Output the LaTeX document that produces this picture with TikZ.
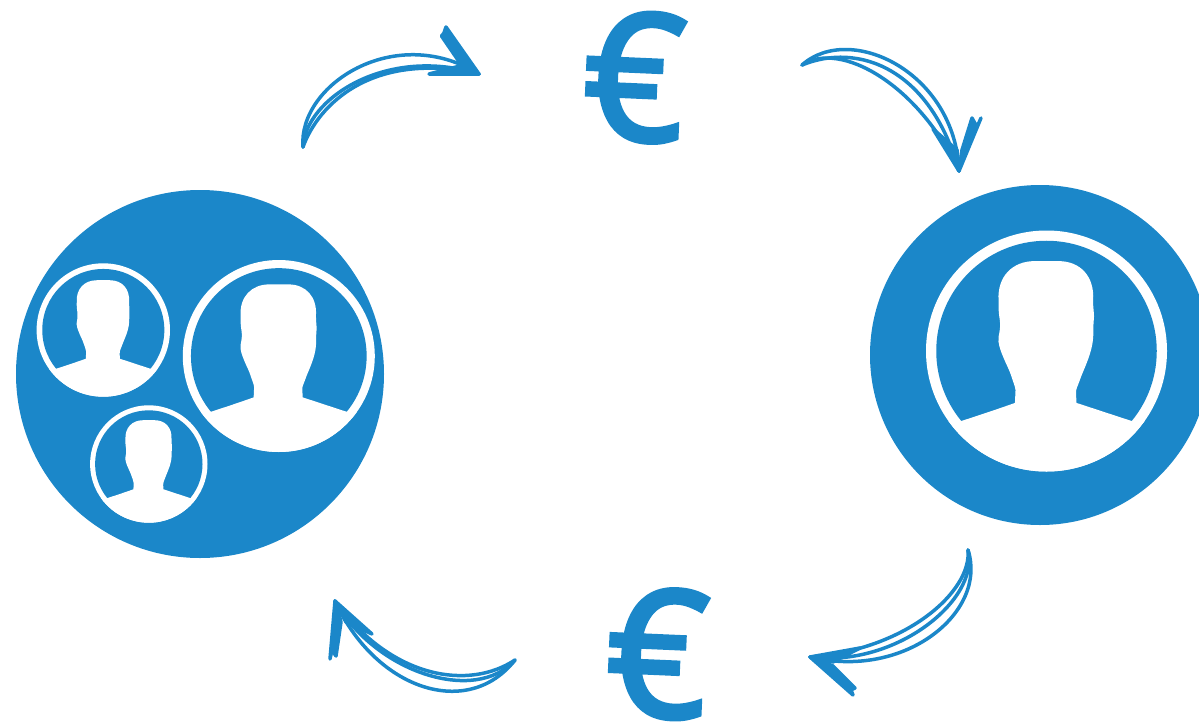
\documentclass[tikz,border=0pt]{standalone}
\usepackage{fontspec}
\setmainfont{Noto Sans}
\newfontfamily\eurofont[FakeBold=2.2]{Noto Sans}
\definecolor{brand}{RGB}{27,135,201}
\tikzset{
  disc/.style={circle,fill=brand,inner sep=0pt,outer sep=0pt},
  ring/.style={circle,fill=white,inner sep=0pt,outer sep=0pt},
  euro/.style={text=brand,inner sep=0pt,rotate=-2.5,font=\eurofont\fontsize{178}{178}\selectfont},
  strand/.style={draw=brand,line width=3.5pt,line cap=round},
  barb/.style={draw=brand,fill=brand,line width=3.5pt,line join=round}
}
% name, x, y, outer radius
\newcommand{\person}[4]{%
  \node[ring,minimum size=#4*2pt] (#1) at (#2,#3) {};
  \begin{scope}[shift={(#2,#3)},x=#4pt,y=-#4pt]
    \clip (0,0) circle (1);
    \fill[brand] (0,0) circle (0.915);
    \fill[white] (-0.10,-0.746) -- (0.10,-0.746)
      .. controls (0.28,-0.746) and (0.40,-0.62) .. (0.387,-0.42)
      .. controls (0.385,-0.35) and (0.40,-0.30) .. (0.392,-0.254)
      .. controls (0.385,-0.2) and (0.395,-0.15) .. (0.381,-0.06)
      .. controls (0.37,0.0) and (0.35,0.06) .. (0.331,0.105)
      .. controls (0.31,0.16) and (0.29,0.2) .. (0.276,0.243)
      .. controls (0.26,0.29) and (0.24,0.32) .. (0.245,0.354)
      -- (0.249,0.431)
      .. controls (0.40,0.48) and (0.55,0.53) .. (0.704,0.58)
      -- (1.1,0.58) -- (1.1,1.1) -- (-1.1,1.1) -- (-1.1,0.58) -- (-0.704,0.58)
      .. controls (-0.55,0.53) and (-0.40,0.48) .. (-0.262,0.431)
      -- (-0.257,0.326)
      .. controls (-0.26,0.29) and (-0.28,0.25) .. (-0.29,0.215)
      .. controls (-0.31,0.15) and (-0.34,0.10) .. (-0.359,0.05)
      .. controls (-0.385,-0.01) and (-0.405,-0.07) .. (-0.398,-0.116)
      .. controls (-0.39,-0.16) and (-0.38,-0.2) .. (-0.387,-0.254)
      .. controls (-0.395,-0.30) and (-0.40,-0.35) .. (-0.398,-0.42)
      .. controls (-0.41,-0.62) and (-0.28,-0.746) .. (-0.10,-0.746) -- cycle;
  \end{scope}}
\begin{document}
\begin{tikzpicture}[x=1pt,y=-1pt]
\useasboundingbox (0,0) rectangle (1199,723);
\clip (0,0) rectangle (1199,723);

% payers
\node[disc,minimum size=368pt] (group) at (200,374) {};
\person{big}{278.8}{356}{96}
\person{topsmall}{103.3}{330}{66.7}
\person{botsmall}{148.8}{464}{58.7}

% receiver
\node[disc,minimum size=340pt] (single) at (1040,355) {};
\person{one}{1046.5}{351}{120.5}

% euros
\node[euro] (eurotop) at (634.5,77) {€};
\node[euro] (eurobot) at (657.5,653.5) {€};

% arrow 1
\coordinate (a1s) at (303,147); \coordinate (a1t) at (479,74);
\draw[strand] (a1s) .. controls (298,85) and (395,22) .. (a1t);
\draw[strand] (a1s) .. controls (318,105) and (372,50) .. (a1t);
\draw[strand] (a1s) .. controls (305,100) and (385,45) .. (a1t);
\draw[barb] (a1t) -- (446,27) -- (444,33) -- (441.5,36) -- (460,63) -- cycle;
\draw[barb] (a1t) -- (429,74) -- (460,66) -- cycle;

% arrow 2
\coordinate (a2s) at (802,65); \coordinate (a2t) at (959,171);
\draw[strand] (a2s) .. controls (850,22) and (955,72) .. (a2t);
\draw[strand] (a2s) .. controls (840,40) and (918,84) .. (a2t);
\draw[strand] (a2s) .. controls (858,42) and (930,68) .. (a2t);
\draw[barb] (a2t) -- (933,129) -- (957,150) -- cycle;
\draw[barb] (a2t) -- (981,118) -- (977,127) -- (972,118) -- (962,150) -- cycle;

% arrow 3
\coordinate (a3s) at (968,550); \coordinate (a3t) at (810,657);
\draw[strand] (a3s) .. controls (988,612) and (905,680) .. (a3t);
\draw[strand] (a3s) .. controls (972,592) and (905,650) .. (a3t);
\draw[strand] (a3s) .. controls (980,600) and (895,668) .. (a3t);
\draw[barb] (a3t) -- (860,648) -- (833,662) -- cycle;
\draw[barb] (a3t) -- (853,695) -- (851,690) -- (855,688) -- (833,666) -- cycle;

% arrow 4
\coordinate (a4s) at (515,660); \coordinate (a4t) at (335,601);
\draw[strand] (a4s) .. controls (468,720) and (376,690) .. (a4t);
\draw[strand] (a4s) .. controls (470,690) and (392,680) .. (a4t);
\draw[strand] (a4s) .. controls (475,705) and (375,672) .. (a4t);
\draw[barb] (a4t) -- (372,634) -- (346,622) -- cycle;
\draw[barb] (a4t) -- (330,659) -- (332,650) -- (336,656) -- (341,622) -- cycle;
\end{tikzpicture}
\end{document}
